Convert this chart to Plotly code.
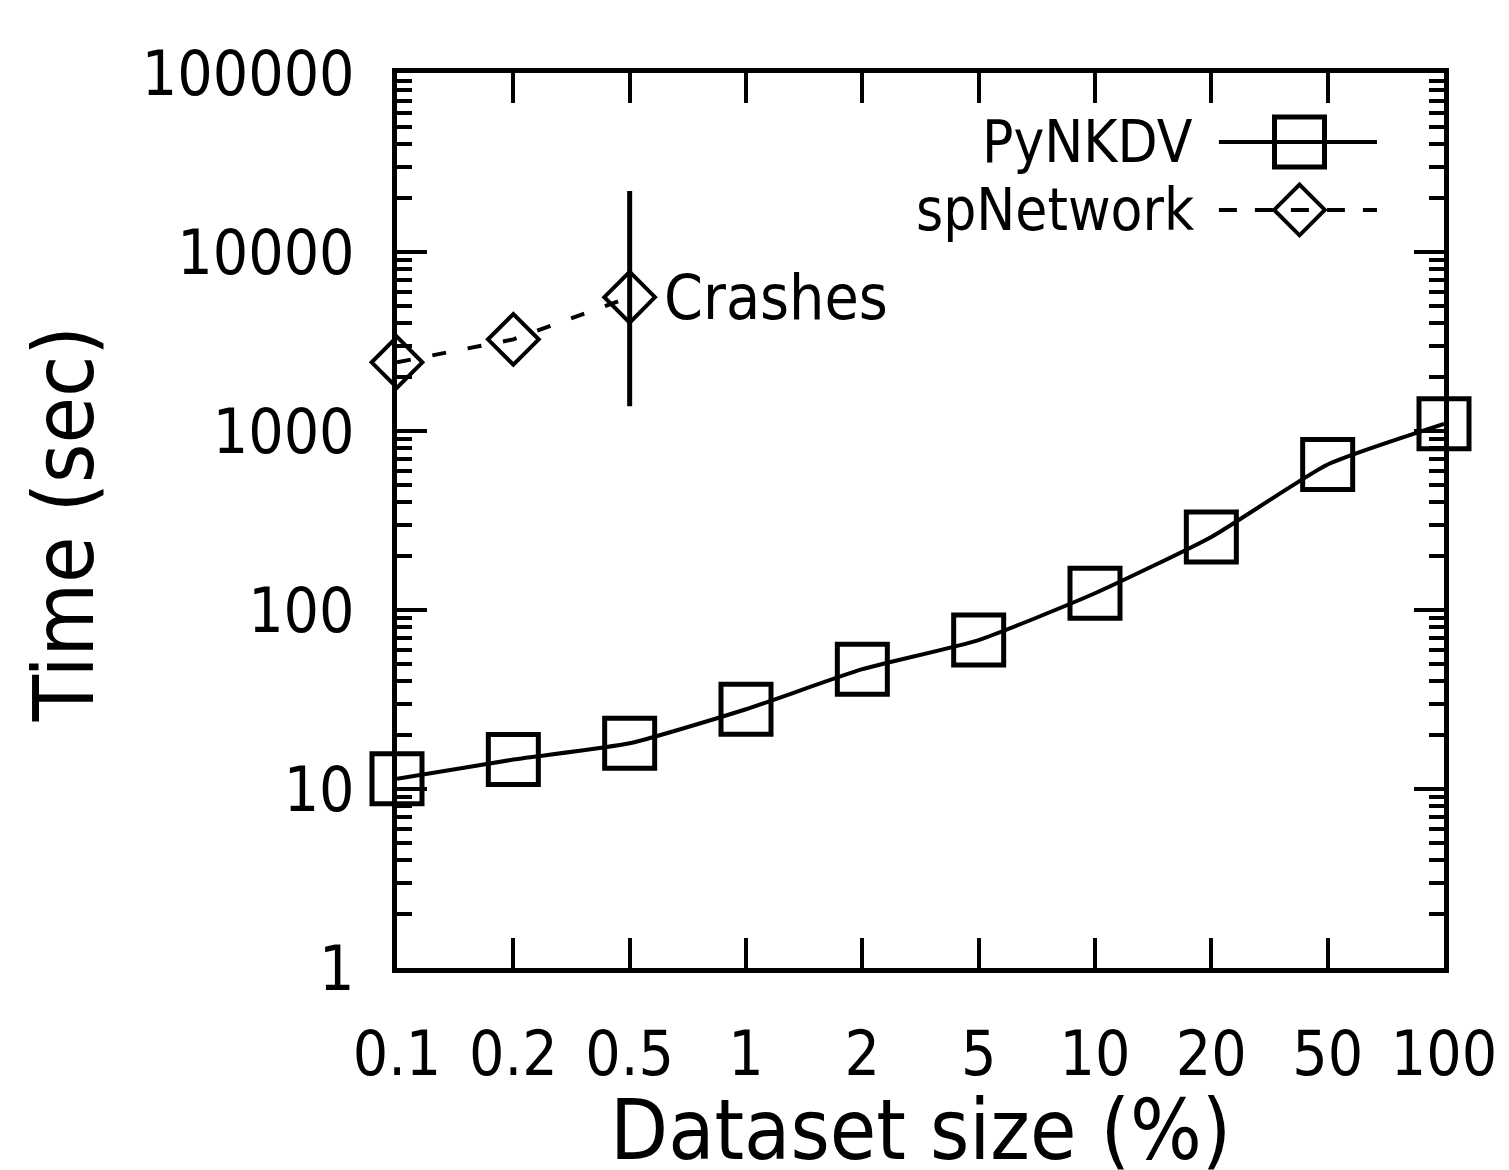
import math
import plotly.graph_objects as go

# ---- data ----
categories = ["0.1", "0.2", "0.5", "1", "2", "5", "10", "20", "50", "100"]
pynkdv_time = [11.4, 14.6, 18.0, 27.9, 46.7, 67.9, 124, 256, 650, 1096]
spnetwork_cats = ["0.1", "0.2", "0.5"]
spnetwork_time = [2420, 3250, 5590]
crash_cat = ["0.5", "0.5"]
crash_range = [1373, 21900]
ytick_vals = [1, 10, 100, 1000, 10000, 100000]
ytick_text = ["1", "10", "100", "1000", "10000", "100000"]
series_names = ["PyNKDV", "spNetwork"]
crash_label = "Crashes"

FONT = "DejaVu Sans Condensed, DejaVu Sans, sans-serif"
TICK_SIZE = 62
LEGEND_SIZE = 58
TITLE_SIZE = 84

fig = go.Figure()

fig.add_trace(go.Scatter(
    x=categories, y=pynkdv_time, mode="lines+markers", name=series_names[0],
    line=dict(color="black", width=4, shape="spline", smoothing=0.5),
    marker=dict(symbol="square-open", size=50, color="black", line=dict(width=5, color="black")),
    cliponaxis=False, showlegend=False,
))
fig.add_trace(go.Scatter(
    x=spnetwork_cats, y=spnetwork_time, mode="lines+markers", name=series_names[1],
    line=dict(color="black", width=4, dash="14px,22px"),
    marker=dict(symbol="diamond-open", size=39, color="black", line=dict(width=4, color="black")),
    cliponaxis=False, showlegend=False,
))
fig.add_trace(go.Scatter(
    x=crash_cat, y=crash_range, mode="lines",
    line=dict(color="black", width=5), cliponaxis=False, showlegend=False,
))

# legend keys (drawn on an overlay axis in plot-fraction units)
fig.add_trace(go.Scatter(
    x=[0.785, 0.936], y=[0.923, 0.923], xaxis="x2", yaxis="y2", mode="lines",
    line=dict(color="black", width=4), showlegend=False, hoverinfo="skip"))
fig.add_trace(go.Scatter(
    x=[0.862], y=[0.923], xaxis="x2", yaxis="y2", mode="markers",
    marker=dict(symbol="square-open", size=50, color="black", line=dict(width=5, color="black")),
    showlegend=False, hoverinfo="skip"))
fig.add_trace(go.Scatter(
    x=[0.785, 0.936], y=[0.847, 0.847], xaxis="x2", yaxis="y2", mode="lines",
    line=dict(color="black", width=4, dash="18px,18px"), showlegend=False, hoverinfo="skip"))
fig.add_trace(go.Scatter(
    x=[0.862], y=[0.847], xaxis="x2", yaxis="y2", mode="markers",
    marker=dict(symbol="diamond-open", size=39, color="black", line=dict(width=4, color="black")),
    showlegend=False, hoverinfo="skip"))

fig.update_layout(
    width=1501, height=1162,
    margin=dict(l=389, r=61, t=65, b=202),
    paper_bgcolor="white", plot_bgcolor="white",
    font=dict(family=FONT, color="black", size=TICK_SIZE),
    xaxis=dict(
        type="category", categoryorder="array", categoryarray=categories,
        range=[0, len(categories) - 1],
        showline=True, linecolor="black", linewidth=5, mirror="ticks",
        ticks="inside", ticklen=30, tickwidth=4, tickcolor="black",
        showgrid=False, zeroline=False,
        tickfont=dict(family=FONT, size=TICK_SIZE, color="black"),
        ticklabelstandoff=28,
    ),
    yaxis=dict(
        type="log", range=[0, 5],
        tickvals=ytick_vals, ticktext=ytick_text,
        showline=True, linecolor="black", linewidth=5, mirror="ticks",
        ticks="inside", ticklen=30, tickwidth=4, tickcolor="black",
        minor=dict(ticks="inside", ticklen=15, tickwidth=4, tickcolor="black", dtick="D1", showgrid=False),
        showgrid=False, zeroline=False,
        tickfont=dict(family=FONT, size=TICK_SIZE, color="black"),
        ticklabelstandoff=25,
    ),
    xaxis2=dict(overlaying="x", range=[0, 1], visible=False, fixedrange=True),
    yaxis2=dict(overlaying="y", range=[0, 1], visible=False, fixedrange=True),
    showlegend=False,
)

annotations = [
    dict(text=series_names[0], xref="paper", yref="paper", x=0.762, y=0.923,
         xanchor="right", yanchor="middle", showarrow=False,
         font=dict(family=FONT, size=LEGEND_SIZE, color="black")),
    dict(text=series_names[1], xref="paper", yref="paper", x=0.764, y=0.847,
         xanchor="right", yanchor="middle", showarrow=False,
         font=dict(family=FONT, size=LEGEND_SIZE, color="black")),
    dict(text=crash_label, x=categories.index(spnetwork_cats[-1]), y=math.log10(spnetwork_time[-1]),
         xref="x", yref="y", xanchor="left", yanchor="middle", xshift=32, showarrow=False,
         font=dict(family=FONT, size=TICK_SIZE, color="black")),
    dict(text="Dataset size (%)", xref="paper", yref="paper", x=0.5, y=-0.181,
         xanchor="center", yanchor="middle", showarrow=False,
         font=dict(family=FONT, size=TITLE_SIZE, color="black")),
    dict(text="Time (sec)", xref="paper", yref="paper", x=-0.318, y=0.496,
         xanchor="center", yanchor="middle", textangle=-90, showarrow=False,
         font=dict(family=FONT, size=TITLE_SIZE, color="black")),
]
fig.update_layout(annotations=annotations)

fig.write_html("out.html")
